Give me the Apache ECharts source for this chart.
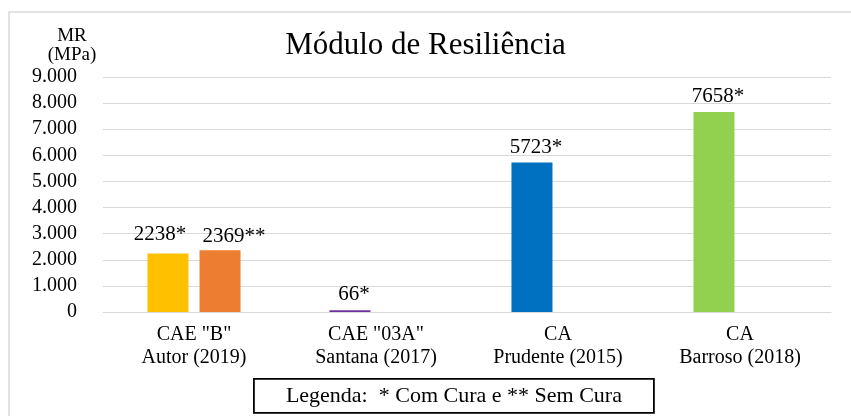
<!DOCTYPE html>
<html>
<head>
<meta charset="utf-8">
<script src="https://cdn.jsdelivr.net/npm/echarts@6/dist/echarts.min.js"></script>
<style>
  html, body { margin: 0; padding: 0; background: #fff; }
  #chart { width: 851px; height: 416px; }
</style>
</head>
<body>
<div id="chart"></div>
<script>
// dados
var categorias = ['CAE "B"\nAutor (2019)', 'CAE "03A"\nSantana (2017)', 'CA\nPrudente (2015)', 'CA\nBarroso (2018)'];
var comCura = [2238, 66, 5723, 7658];
var semCura = [2369, null, null, null];
var coresComCura = ['#FFC000', '#7030A0', '#0070C0', '#92D050'];
var corSemCura = '#ED7D31';
var legendaTexto = 'Legenda:  * Com Cura e ** Sem Cura';

var fonte = '"Liberation Serif", "Times New Roman", serif';

function milhar(v) {
  return String(v).replace(/\B(?=(\d{3})+(?!\d))/g, '.');
}

var myChart = echarts.init(document.getElementById('chart'));

var option = {
  backgroundColor: '#ffffff',
  animation: false,
  title: {
    text: 'Módulo de Resiliência',
    left: 'center',
    top: 25,
    padding: [5, 0, 5, 24],
    textStyle: { fontFamily: fonte, fontSize: 31, fontWeight: 'normal', color: '#000' }
  },
  grid: { left: 103, right: 20, top: 77, bottom: 104 },
  xAxis: {
    type: 'category',
    data: categorias,
    axisTick: { show: false },
    axisLine: { lineStyle: { color: '#d9d9d9', width: 1 } },
    axisLabel: {
      fontFamily: fonte, fontSize: 20, color: '#000',
      lineHeight: 23, margin: 11
    }
  },
  yAxis: {
    type: 'value',
    min: 0,
    max: 9000,
    interval: 1000,
    name: 'MR\n(MPa)',
    nameLocation: 'end',
    nameGap: 12,
    nameTextStyle: {
      fontFamily: fonte, fontSize: 19, color: '#000',
      align: 'center', lineHeight: 19, padding: [0, 62, 0, 0]
    },
    axisLine: { show: false },
    axisTick: { show: false },
    splitLine: { lineStyle: { color: '#d9d9d9', width: 1 } },
    axisLabel: {
      fontFamily: fonte, fontSize: 20, color: '#000', margin: 26,
      formatter: milhar
    }
  },
  series: [{
    name: 'Com Cura',
    type: 'bar',
    barWidth: 41,
    barGap: '27%',
    data: comCura.map(function (v, i) {
      var item = { value: v, itemStyle: { color: coresComCura[i] } };
      // primeiro rótulo afastado para não encostar no vizinho
      if (i === 0) item.label = { offset: [-8, -4] };
      return item;
    }),
    label: {
      show: true, position: 'top', distance: 5, offset: [4, 0],
      fontFamily: fonte, fontSize: 21, color: '#000',
      formatter: function (p) { return p.value + '*'; }
    }
  }, {
    name: 'Sem Cura',
    type: 'bar',
    barWidth: 41,
    data: semCura,
    itemStyle: { color: corSemCura },
    label: {
      show: true, position: 'top', distance: 3, offset: [14, 0],
      fontFamily: fonte, fontSize: 21, color: '#000',
      formatter: function (p) { return p.value + '**'; }
    }
  }],
  graphic: [{
    type: 'rect',
    silent: true,
    shape: { x: 9, y: 12, width: 900, height: 450 },
    style: { fill: 'none', stroke: '#d9d9d9', lineWidth: 1.5 }
  }, {
    type: 'group',
    left: 253,
    top: 378,
    children: [{
      type: 'rect',
      shape: { x: 0, y: 0, width: 400, height: 34 },
      style: { fill: '#fff', stroke: '#000', lineWidth: 1.8 }
    }, {
      type: 'text',
      x: 200,
      y: 17,
      style: {
        text: legendaTexto,
        fontFamily: fonte, fontSize: 22, fill: '#000',
        align: 'center', verticalAlign: 'middle'
      }
    }]
  }]
};

myChart.setOption(option);
</script>
</body>
</html>
